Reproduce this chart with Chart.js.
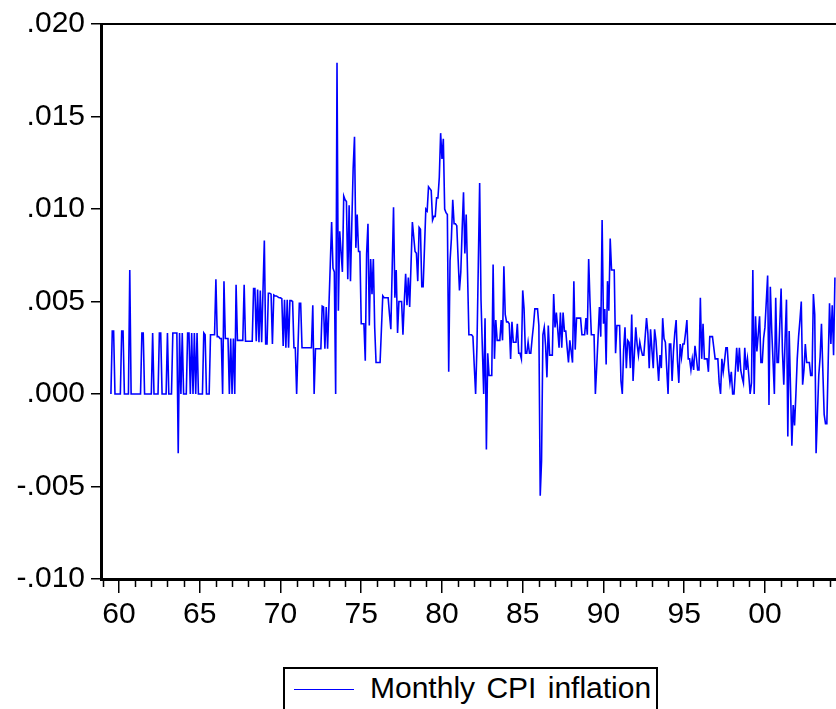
<!DOCTYPE html>
<html>
<head>
<meta charset="utf-8">
<script src="https://cdn.jsdelivr.net/npm/chart.js@4/dist/chart.umd.min.js"></script>
<style>
  html, body { margin: 0; padding: 0; background: #fff; overflow: hidden; }
  #wrap { position: relative; width: 836px; height: 709px; }
  #legend {
    position: absolute; left: 283px; top: 667px; width: 375px; height: 70px;
    box-sizing: border-box; border: 2px solid #000; background: #fff;
    font-family: "Liberation Sans", Arial, sans-serif; font-size: 30px; color: #000;
  }
  #legend .swatch { position: absolute; left: 9px; top: 20px; width: 60px; height: 0; border-top: 1.5px solid #0000ff; }
  #legend .label { position: absolute; left: 85px; top: 2px; white-space: nowrap; word-spacing: 3px; }
</style>
</head>
<body>
<div id="wrap">
  <canvas id="cpiChart" width="836" height="709"></canvas>
  <div id="legend"><span class="swatch"></span><span class="label">Monthly CPI inflation</span></div>
</div>
<script>
// monthly observations, first one is 1959:07
const startYear = 1959;
const startMonth = 7;

const cpi1959to1969 = [
  0, .0034, .0034, 0, 0, 0,
  0, 0, .0034, .0034, 0, 0, 0, 0, .0067, 0, 0, 0,
  0, 0, 0, 0, 0, .0033, .0033, 0, 0, 0, 0, 0,
  0, .0033, 0, 0, 0, 0, .0033, .0033, 0, 0, 0, 0,
  .0033, 0, 0, 0, .0033, .0033, .0033, .0033, -.0032, .0033, 0, .0033,
  0, 0, 0, .0033, .0033, 0, .0033, 0, .0033, 0, .0033, 0,
  0, 0, 0, .0033, .0032, 0, 0, 0, .0032, .0032, .0032, .0032,
  .0062, .0031, .0031, .0030, .0030, 0, .0061, .0030, .0030, .0030, 0, .0030,
  0, .0030, 0, .0059, .0029, .0029, .0029, .0029, .0029, .0059, .00285, .00285,
  .00285, .00285, .00285, .00285, .0057, .0057, .00285, .00565, .0028, .0056, .0028, .0056,
  .0083, .0027, .0027, .00545, .00545, .0054, .0027, .00535, .0053, .0053, .00525, .0052
];

const cpi1970s = [
  .0052, .00515, .0026, .0051, .0025, .0051, .0025, .00505, .00505, .0050, .0025, .0025,
  0, .0025, .0049, .0049, .0025, .0025, .0025, .0025, .0025, .0025, .0025, .0025,
  .0048, 0, .00245, .00245, .00245, .00245, .00245, .00475, .0047, .00245, .0047, .00245,
  .0048, .0070, .0093, .0068, .0066, 0, .0179, .0045, .0088, .0077, .0066, .0107,
  .0105, .0104, .0062, .0102, .0061, .0092, .0122, .0139, .0079, .0097, .0077, .0077,
  .0038, .0038, .0038, .0018, .0076, .0092, .0037, .0073, .0054, .0073, .0036, .0017,
  .0017, .0017, .0017, .0035, .0053, .0052, .0052, .0052, .0052, .0043, .0035, .0068,
  .0101, .0052, .0067, .0033, .0050, .0050, .0050, .0032, .0050, .0065, .0048, .0063,
  .0047, .0070, .0093, .0085, .0077, .0076, .0061, .0090, .0089, .0058, .0058, .0079,
  .0100, .0099, .0112, .0111, .0110, .0094, .0096, .0096, .0106, .0106, .0117, .0141
];

const cpi1980s = [
  .0127, .0138, .0100, .0098, .0097, .0012, .0072, .0084, .0105, .0092, .0092, .0091,
  .0073, .0056, .0066, .0089, .0109, .0076, .0097, .0065, .0032, .0032, .0032, .0031,
  .0015, 0, .0026, .0070, .0114, .0051, .0025, 0, .0041, -.0030, .0022, .0010,
  .0010, .0010, .0070, .0019, .0040, .0029, .0029, .0029, .0040, .0029, .0069, .0043,
  .0039, .0039, .0038, .0019, .0039, .0028, .0028, .0028, .0038, .0022, .0022, .0019,
  .0056, .0046, .0022, .0022, .0028, .0022, .0022, .0030, .0037, .0046, .0046, .0046,
  .0037, -.0055, -.0036, .0032, .0036, .0026, .0009, .0037, .0021, .0021, .0021, .0054,
  .0036, .0044, .0035, .0025, .0044, .0025, .0044, .0034, .0034, .0025, .0017, .0029,
  .0023, .0017, .0061, .0024, .0041, .0041, .0041, .0041, .0032, .0032, .0032, .0041,
  .0032, .0073, .0050, .0032, .0032, .0032, 0, .0015, .0031, .0047, .0031, .0094
];

const cpi1990s = [
  .0038, .0046, .0016, .0061, .0045, .0084, .0067, .0067, .0067, .0022, .0037, .0037,
  .0037, .0007, 0, .0024, .0036, .0014, .0029, .0028, .0014, .0043, .0007, .0022,
  .0036, .0027, .0021, .0028, .0024, .0021, .0021, .0031, .0041, .0033, .0014, .0035,
  .0024, .0014, .0035, .0029, .0018, .0007, .0021, .0014, .0041, .0030, .0028, .0014,
  0, .0027, .0027, .0007, .0023, .0033, .0040, .0018, .0006, .0027, .0020, .0027,
  .0027, .0033, .0040, .0019, .0019, .0013, .0019, .0013, .0026, .0020, .0013, .0013,
  .0052, .0019, .0038, .0019, .0019, .0019, .0012, .0031, .0031, .0031, .0025, .0019,
  .0019, .0019, .0006, 0, .0019, .0012, .0018, .0025, .0025, .0013, .0006, .0012,
  0, 0, .0012, .0025, .0012, .0025, .0013, .0009, .0006, .0025, .0013, .0019,
  .0010, 0, .0006, .0067, 0, .0042, .0023, .0032, .0042, .0017, .0017, .0030
];

const cpi2000s = [
  .0036, .0050, .0064, -.0006, .0058, .0035, .0018, 0, .0052, .0017, .0017, .0037,
  .0057, .0023, .0005, .0030, .0051, -.0023, .0034, .0003, -.0028, -.0006, -.0017, 0,
  .0019, .0031, .0040, .0050, .0005, .0013, .0027, .0017, .0017, .0017, .0010, .0010,
  .0054, .0043, -.0032, -.0011, .0010, .0020, .0038, .0013, -.0011, -.0016, -.0016, .0017,
  .0049, .0027, .0048, .0021, .0063
];

// axis range as shown (right side of the frame is cut off)
const xMin = 1958.885, xMax = 2004.4;
const yMin = -0.010, yMax = 0.020, yStep = 0.005;

const inflation = [...cpi1959to1969, ...cpi1970s, ...cpi1980s, ...cpi1990s, ...cpi2000s];
const points = inflation.map((v, i) => ({ x: startYear + (startMonth - 1 + i) / 12, y: v }));

const axisFont = { family: '"Liberation Sans", Arial, sans-serif', size: 30 };

// top frame line and short yearly ticks
const framePlugin = {
  id: 'frame',
  afterDraw(chart) {
    const { ctx, chartArea } = chart;
    const xs = chart.scales.x;
    ctx.save();
    ctx.strokeStyle = '#000';
    ctx.lineWidth = 2;
    ctx.beginPath();
    ctx.moveTo(chartArea.left, chartArea.top);
    ctx.lineTo(chartArea.right, chartArea.top);
    ctx.stroke();
    ctx.lineWidth = 1.5;
    ctx.beginPath();
    for (let yr = Math.ceil(xs.min); yr <= xs.max; yr++) {
      if (yr % 5 === 0) continue;
      const px = Math.round(xs.getPixelForValue(yr)) + 0.5;
      ctx.moveTo(px, chartArea.bottom);
      ctx.lineTo(px, chartArea.bottom + 8);
    }
    ctx.stroke();
    ctx.restore();
  }
};

new Chart(document.getElementById('cpiChart'), {
  type: 'line',
  data: {
    datasets: [{
      label: 'Monthly CPI inflation',
      data: points,
      borderColor: '#0000ff',
      borderWidth: 1.6,
      pointRadius: 0,
      tension: 0,
      fill: false
    }]
  },
  options: {
    responsive: false,
    animation: false,
    layout: { padding: { top: 21, right: 0, left: 0, bottom: 0 } },
    plugins: {
      legend: { display: false },
      tooltip: { enabled: false }
    },
    scales: {
      x: {
        type: 'linear',
        min: xMin,
        max: xMax,
        afterFit: s => { s.height = 130; },
        border: { display: true, color: '#000', width: 3 },
        grid: {
          drawOnChartArea: false,
          tickLength: 14,
          lineWidth: 1.5,
          tickColor: c => (c.tick && c.tick.value % 5 === 0) ? '#000' : 'rgba(0,0,0,0)'
        },
        ticks: {
          stepSize: 1,
          autoSkip: false,
          includeBounds: false,
          maxRotation: 0,
          padding: 4,
          color: '#000',
          font: axisFont,
          callback: v => v % 5 === 0 ? String(v % 100).padStart(2, '0') : ''
        }
      },
      y: {
        min: yMin,
        max: yMax,
        afterFit: s => { s.width = 101; },
        border: { display: true, color: '#000', width: 3 },
        grid: { drawOnChartArea: false, tickLength: 10, lineWidth: 1.5, color: '#000' },
        ticks: {
          stepSize: yStep,
          padding: 6,
          color: '#000',
          font: axisFont,
          callback: v => (v < -1e-9 ? '-' : '') + Math.abs(v).toFixed(3).slice(1)
        }
      }
    }
  },
  plugins: [framePlugin]
});
</script>
</body>
</html>
